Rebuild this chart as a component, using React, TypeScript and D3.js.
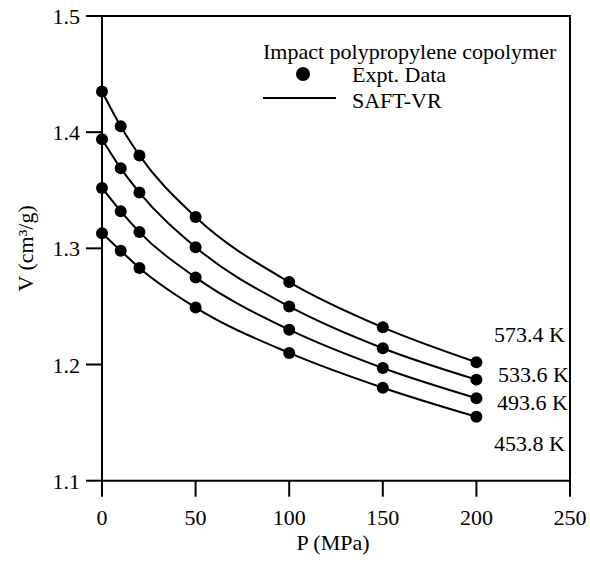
import React from "react";
import * as d3 from "d3";

const pressures = [0, 10, 20, 50, 100, 150, 200];
const temps = ["573.4 K", "533.6 K", "493.6 K", "453.8 K"];
const v573 = [1.435, 1.405, 1.38, 1.327, 1.271, 1.232, 1.202];
const v533 = [1.394, 1.369, 1.348, 1.301, 1.25, 1.214, 1.187];
const v493 = [1.352, 1.332, 1.314, 1.275, 1.23, 1.197, 1.171];
const v453 = [1.313, 1.298, 1.283, 1.249, 1.21, 1.18, 1.155];
const seriesValues = [v573, v533, v493, v453];
const xTicks = [0, 50, 100, 150, 200, 250];
const yTicks = [1.1, 1.2, 1.3, 1.4, 1.5];
const legendTitle = "Impact polypropylene copolymer";
const legendDots = "Expt. Data";
const legendLine = "SAFT-VR";
const xLabel = "P (MPa)";
const yLabel = "V (cm³/g)";

const labelPos = [
  { x: 494, y: 342 },
  { x: 498, y: 382 },
  { x: 497, y: 410 },
  { x: 494, y: 451 },
];

export default function App() {
  const W = 590;
  const H = 563;
  const x = d3.scaleLinear().domain([0, 250]).range([102, 570]);
  const y = d3.scaleLinear().domain([1.1, 1.5]).range([480.7, 16]);
  const font = "'Liberation Serif', 'Times New Roman', serif";
  const fs = 22;
  const line = d3
    .line<[number, number]>()
    .x((d) => x(d[0]))
    .y((d) => y(d[1]))
    .curve(d3.curveMonotoneX);
  const x0 = x.range()[0];
  const x1 = x.range()[1];
  const y0 = y.range()[0];
  const y1 = y.range()[1];
  const tick = 16;
  return (
    <svg
      width={W}
      height={H}
      style={{ position: "absolute", left: 0, top: 0, background: "#fff" }}
      fontFamily={font}
    >
      <rect width={W} height={H} fill="#fff" />
      {/* frame */}
      <path
        d={`M${x0},${y1}H${x1}V${y0}H${x0}Z`}
        fill="none"
        stroke="#000"
        strokeWidth={2}
      />
      {xTicks.map((t) => (
        <g key={"x" + t}>
          <line x1={x(t)} x2={x(t)} y1={y0} y2={y0 + tick} stroke="#000" strokeWidth={2} />
          <text x={x(t)} y={525} textAnchor="middle" fontSize={fs}>
            {t}
          </text>
        </g>
      ))}
      {yTicks.map((t) => (
        <g key={"y" + t}>
          <line x1={x0 - tick} x2={x0} y1={y(t)} y2={y(t)} stroke="#000" strokeWidth={2} />
          <text x={80} y={y(t) + 8} textAnchor="end" fontSize={fs}>
            {t.toFixed(1)}
          </text>
        </g>
      ))}
      <text x={333} y={550} textAnchor="middle" fontSize={fs}>
        {xLabel}
      </text>
      <text
        transform={`translate(33,${(y0 + y1) / 2}) rotate(-90)`}
        textAnchor="middle"
        fontSize={fs}
      >
        {yLabel}
      </text>
      {seriesValues.map((vals, i) => {
        const pts = pressures.map((p, j) => [p, vals[j]] as [number, number]);
        return (
          <g key={"s" + i}>
            <path d={line(pts) || ""} fill="none" stroke="#000" strokeWidth={2} />
            {pts.map((d, j) => (
              <circle key={j} cx={x(d[0])} cy={y(d[1])} r={6} fill="#000" />
            ))}
            <text x={labelPos[i].x} y={labelPos[i].y} fontSize={fs}>
              {temps[i]}
            </text>
          </g>
        );
      })}
      {/* legend */}
      <text x={263} y={59} fontSize={fs}>
        {legendTitle}
      </text>
      <circle cx={303} cy={74} r={7} fill="#000" />
      <text x={352} y={82} fontSize={fs}>
        {legendDots}
      </text>
      <line x1={263} x2={336} y1={98} y2={98} stroke="#000" strokeWidth={2} />
      <text x={352} y={108} fontSize={fs}>
        {legendLine}
      </text>
    </svg>
  );
}
